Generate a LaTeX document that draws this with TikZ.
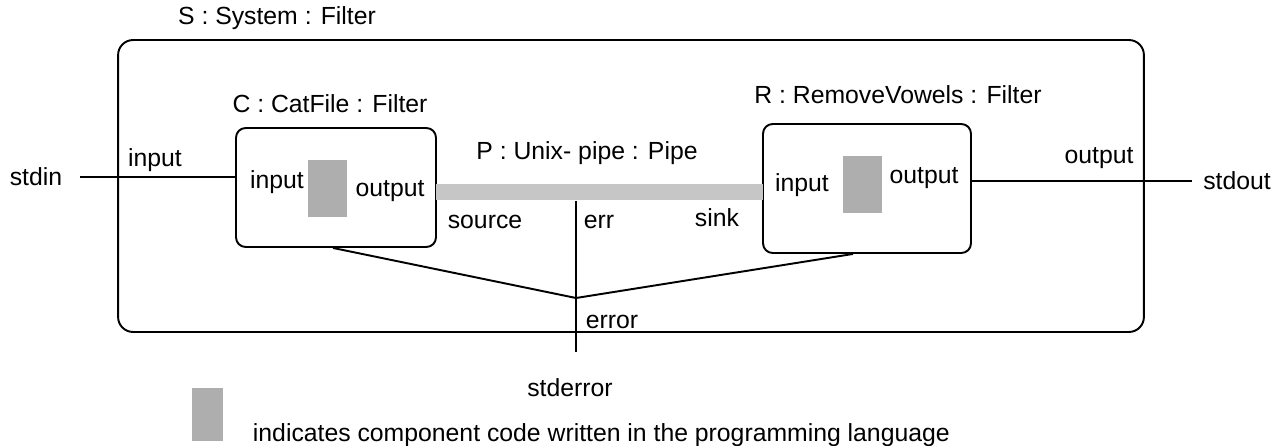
\documentclass[tikz,border=0pt]{standalone}
\usepackage{fontspec}
\setmainfont{Liberation Sans}
\definecolor{codegray}{HTML}{AEAEAE}
\definecolor{pipegray}{HTML}{C6C6C6}
\begin{document}
\begin{tikzpicture}[x=0.02cm, y=-0.02cm, line width=1.1pt,
  every node/.style={font=\fontsize{14.1}{17}\selectfont, inner sep=0pt},
  filterbox/.style={draw, rounded corners=5.5pt, minimum width=4cm},
  codeblock/.style={fill=codegray, minimum width=0.78cm, minimum height=1.14cm}]
\useasboundingbox (0,0) rectangle (1288,446);
% System
\node at (277,18) {S : System : Filter};
\node[draw, rounded corners=8.5pt, minimum width=20.52cm, minimum height=5.84cm] (S) at (631,186) {};
% CatFile
\node at (330,104) {C : CatFile : Filter};
\node[filterbox, minimum height=2.38cm] (C) at (336,187.5) {};
\node[codeblock] (Ccode) at (327.5,188.5) {};
\node at (277,182) {input};
\node at (390,191) {output};
% RemoveVowels
\node at (898,95) {R : RemoveVowels : Filter};
\node[filterbox, minimum width=4.16cm, minimum height=2.58cm] (R) at (867,188.5) {};
\node[codeblock] (Rcode) at (862.5,184.5) {};
\node at (802,185) {input};
\node at (924,178) {output};
% Pipe
\node[fill=pipegray, minimum width=6.54cm, minimum height=0.32cm] (P) at (599.5,192) {};
\node at (587,153) {P : Unix- pipe : Pipe};
\node at (485,222) {source};
\node at (599,222) {err};
\node at (717,218) {sink};
% Ports
\node (stdin) at (36,177) {stdin};
\draw ([xshift=0.34cm]stdin.east) -- (stdin -| C.west);
\node at (155,160) {input};
\node (stdout) at (1237,181) {stdout};
\draw (stdout -| R.east) -- ([xshift=-0.2cm]stdout.west);
\node at (1099,158) {output};
% Error
\coordinate (J) at (576,298);
\coordinate (E) at (576,352);
\draw (P.south -| J) -- (E);
\draw ([xshift=-0.06cm]C.south) -- (J) -- ([xshift=-0.28cm]R.south);
\node at (612,322) {error};
\node at (570,388) {stderror};
% Legend
\node[fill=codegray, minimum width=0.62cm, minimum height=1.06cm] (key) at (207.5,414.5) {};
\node[anchor=base west] at (252,441) {indicates component code written in the programming language};
\end{tikzpicture}
\end{document}
